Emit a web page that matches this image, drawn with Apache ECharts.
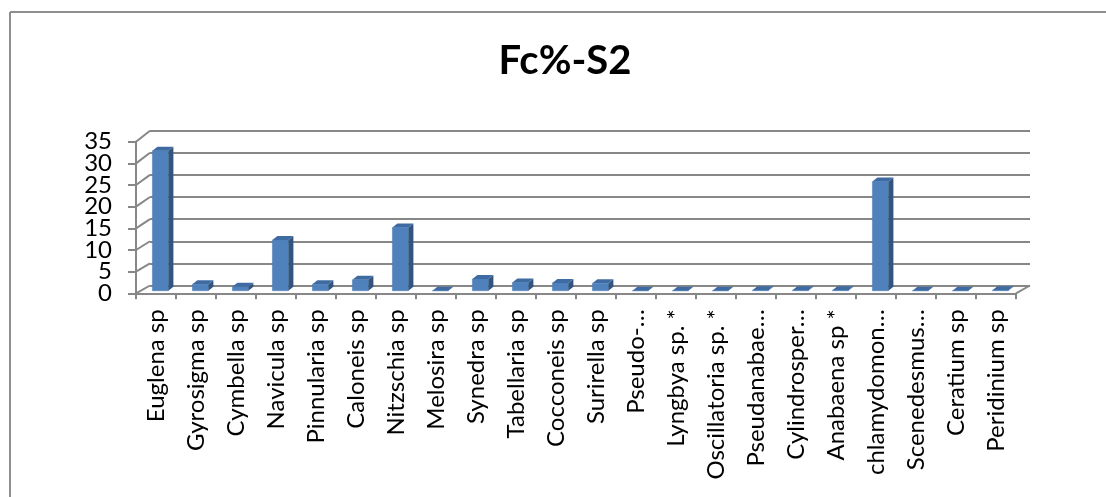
<!DOCTYPE html>
<html>
<head>
<meta charset="utf-8">
<script src="https://cdn.jsdelivr.net/npm/echarts@6/dist/echarts.min.js"></script>
<style>
  html, body { margin: 0; padding: 0; background: #fff; }
  #chart { width: 1106px; height: 497px; }
</style>
</head>
<body>
<div id="chart"></div>
<script>
// Species (labels as shown on the axis) and their Fc% at station S2
const categories = ['Euglena sp', 'Gyrosigma sp', 'Cymbella sp', 'Navicula sp', 'Pinnularia sp',
  'Caloneis sp', 'Nitzschia sp', 'Melosira sp', 'Synedra sp', 'Tabellaria sp', 'Cocconeis sp',
  'Surirella sp', 'Pseudo-…', 'Lyngbya sp. *', 'Oscillatoria sp. *', 'Pseudanabae…',
  'Cylindrosper…', 'Anabaena sp *', 'chlamydomon…', 'Scenedesmus…', 'Ceratium sp', 'Peridinium sp'];
const values = [32.3, 1.5, 0.9, 11.7, 1.5, 2.5, 14.6, 0, 2.7, 1.9, 1.8, 1.7,
  0, 0, 0, 0.1, 0.1, 0.1, 25.2, 0, 0, 0.1];
const yTicks = [0, 5, 10, 15, 20, 25, 30, 35];

const GRAY = '#878787';
const FONT = 'Lato, "Open Sans", sans-serif';
// depth of the 3-D box (front plane -> back wall)
const DEPTH_X = 14;
const depthY = v => 7.8 + 0.092 * v;

const chart = echarts.init(document.getElementById('chart'), null, { renderer: 'canvas' });

// value ticks: label on the front axis, diagonal to the back wall; floor's right edge
function renderWall(params, api) {
  const v = api.value(0);
  const p = api.coord([0, v]);
  const bw = api.size([1, 0])[0];
  const xl = p[0] - bw / 2;
  const children = [
    {
      type: 'line',
      shape: { x1: xl, y1: p[1], x2: xl + DEPTH_X, y2: p[1] - depthY(v) },
      style: { stroke: GRAY, lineWidth: 2 }
    },
    {
      type: 'text',
      x: xl - 24, y: p[1],
      style: { text: String(v), align: 'right', verticalAlign: 'middle',
        font: '24px ' + FONT, fill: '#000' }
    }
  ];
  if (v === 0) {
    const pr = api.coord([categories.length - 1, 0]);
    const xr = pr[0] + bw / 2;
    children.push({
      type: 'line',
      shape: { x1: xr, y1: pr[1], x2: xr + DEPTH_X, y2: pr[1] - depthY(0) },
      style: { stroke: GRAY, lineWidth: 2 }
    });
  }
  return { type: 'group', children };
}

// 3-D column: front face, right side and top
function renderBar(params, api) {
  const i = api.value(0);
  const top = api.coord([i, api.value(1)]);
  const base = api.coord([i, 0]);
  const bw = api.size([1, 0])[0];
  const w = bw * 0.4;
  const x0 = top[0] - bw * 0.09;
  const lift = 2.6, dx = 5, dy = 4;
  const yT = top[1] - lift, yB = base[1] - lift;
  return {
    type: 'group',
    children: [
      { type: 'rect', shape: { x: x0, y: yT, width: w, height: yB - yT },
        style: { fill: '#4F81BD', stroke: '#4A7AB3', lineWidth: 0.5 } },
      { type: 'polygon', shape: { points: [[x0 + w, yT], [x0 + w + dx, yT - dy], [x0 + w + dx, yB - dy], [x0 + w, yB]] },
        style: { fill: '#33547E' } },
      { type: 'polygon', shape: { points: [[x0, yT], [x0 + dx, yT - dy], [x0 + w + dx, yT - dy], [x0 + w, yT]] },
        style: { fill: '#3E6BA2' } }
    ]
  };
}

chart.setOption({
  animation: false,
  backgroundColor: '#fff',
  title: {
    text: 'Fc%-S2',
    left: 560,
    textAlign: 'center',
    top: 36,
    textStyle: { fontFamily: FONT, fontWeight: 'bold', fontSize: 40, color: '#000' }
  },
  graphic: [
    { type: 'line', shape: { x1: 10, y1: 12, x2: 1106, y2: 12 }, style: { stroke: '#8f8f8f', lineWidth: 2 } },
    { type: 'line', shape: { x1: 10, y1: 12, x2: 10, y2: 497 }, style: { stroke: '#8f8f8f', lineWidth: 2 } }
  ],
  grid: [
    { left: 136, right: 90, top: 141.7, bottom: 203.7 },
    { left: 150, right: 76, top: 130.7, bottom: 211.5 }
  ],
  xAxis: [
    {
      type: 'category', gridIndex: 0, data: categories,
      axisLine: { lineStyle: { color: GRAY, width: 2 } },
      axisTick: { show: true, length: 6, lineStyle: { color: GRAY, width: 2 } },
      axisLabel: { rotate: 90, margin: 16, color: '#000', fontFamily: FONT, fontSize: 24, interval: 0 },
      splitLine: { show: false }
    },
    { type: 'value', gridIndex: 1, min: 0, max: 1, show: false }
  ],
  yAxis: [
    {
      type: 'value', gridIndex: 0, min: 0, max: 35, interval: 5,
      axisLine: { show: true, lineStyle: { color: GRAY, width: 2 } },
      axisTick: { show: true, length: 8, lineStyle: { color: GRAY, width: 2 } },
      axisLabel: { show: false },
      splitLine: { show: false }
    },
    {
      type: 'value', gridIndex: 1, min: 0, max: 35, interval: 5,
      axisLine: { show: false }, axisTick: { show: false }, axisLabel: { show: false },
      splitLine: { show: true, lineStyle: { color: GRAY, width: 2 } }
    }
  ],
  series: [
    {
      type: 'custom', xAxisIndex: 0, yAxisIndex: 0, z: 1,
      renderItem: renderWall,
      data: yTicks.map(v => [v]),
      encode: { y: 0 }
    },
    {
      type: 'custom', xAxisIndex: 0, yAxisIndex: 0, z: 3,
      renderItem: renderBar,
      data: values.map((v, i) => [i, v]),
      encode: { x: 0, y: 1 }
    }
  ]
});
</script>
</body>
</html>
